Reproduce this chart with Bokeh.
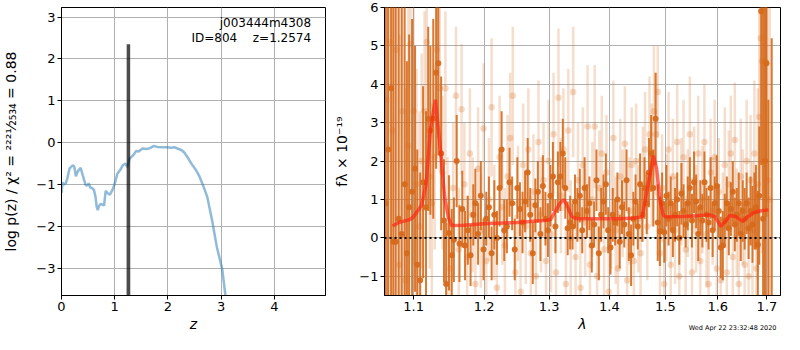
import numpy as np
from bokeh.plotting import figure
from bokeh.models import ColumnDataSource, FixedTicker, Range1d, Label, PrintfTickFormatter, Span, Title
from bokeh.layouts import row
from bokeh.embed import file_html
from bokeh.resources import INLINE

# ---------------- data: left panel (redshift PDF) ----------------
z_grid = [0.0, 0.02, 0.05, 0.08, 0.11, 0.15, 0.18, 0.21, 0.24, 0.27,
          0.30, 0.33, 0.36, 0.40, 0.45, 0.48, 0.51, 0.54, 0.57, 0.61,
          0.64, 0.66, 0.68, 0.71, 0.74, 0.77, 0.80, 0.83, 0.86, 0.91,
          0.96, 1.00, 1.05, 1.10, 1.15, 1.20, 1.24, 1.28, 1.32, 1.36,
          1.40, 1.45, 1.52, 1.60, 1.66, 1.73, 1.80, 1.90, 1.98, 2.06,
          2.13, 2.20, 2.26, 2.31, 2.37, 2.44, 2.52, 2.59, 2.66, 2.74,
          2.83, 2.92, 3.02, 3.08]
log_pz = [-1.2, -0.95, -1.0, -0.97, -0.85, -0.62, -0.58, -0.54, -0.57, -0.8,
          -0.7, -0.64, -0.6, -0.78, -1.0, -1.03, -0.97, -1.07, -1.08, -1.13,
          -1.3, -1.52, -1.61, -1.5, -1.46, -1.48, -1.5, -1.15, -1.2, -1.24,
          -1.12, -0.98, -0.74, -0.66, -0.54, -0.5, -0.58, -0.38, -0.33, -0.28,
          -0.2, -0.21, -0.14, -0.15, -0.13, -0.08, -0.1, -0.11, -0.11, -0.12,
          -0.11, -0.15, -0.18, -0.24, -0.35, -0.5, -0.64, -0.8, -1.02, -1.3,
          -1.86, -2.5, -3.02, -3.65]
spike_z = [1.2540, 1.2574, 1.2608]
spike_logp = [-8.0, 2.35, -8.0]
obj_name = "j003444m4308"
obj_id = "ID=804"
obj_z = "z=1.2574"
timestamp = "Wed Apr 22 23:32:48 2020"

# ---------------- data: right panel (spectrum) ----------------
# binned spectrum (dark)
lam_b = [1.063, 1.066, 1.070, 1.073, 1.076, 1.080, 1.084, 1.088, 1.091, 1.094,
         1.098, 1.102, 1.105, 1.109, 1.113, 1.117, 1.120, 1.123, 1.127, 1.131,
         1.134, 1.138, 1.142, 1.145, 1.149, 1.153, 1.156, 1.160, 1.164, 1.168,
         1.172, 1.176, 1.180, 1.184, 1.187, 1.191, 1.195, 1.199, 1.203, 1.207,
         1.211, 1.215, 1.219, 1.223, 1.226, 1.230, 1.234, 1.238, 1.242, 1.246,
         1.250, 1.254, 1.258, 1.262, 1.266, 1.270, 1.274, 1.278, 1.282, 1.286,
         1.290, 1.294, 1.298, 1.302, 1.306, 1.310, 1.314, 1.318, 1.322, 1.326,
         1.330, 1.334, 1.338, 1.342, 1.346, 1.350, 1.354, 1.358, 1.362, 1.366,
         1.370, 1.374, 1.378, 1.382, 1.386, 1.390, 1.394, 1.398, 1.402, 1.406,
         1.410, 1.414, 1.418, 1.422, 1.426, 1.430, 1.434, 1.438, 1.442, 1.446,
         1.450, 1.454, 1.458, 1.462, 1.466, 1.470, 1.474, 1.478, 1.482, 1.486,
         1.490, 1.494, 1.498, 1.502, 1.506, 1.510, 1.514, 1.518, 1.522, 1.526,
         1.530, 1.534, 1.538, 1.542, 1.546, 1.550, 1.554, 1.558, 1.562, 1.566,
         1.570, 1.574, 1.578, 1.582, 1.586, 1.590, 1.594, 1.598, 1.602, 1.606,
         1.610, 1.614, 1.618, 1.622, 1.626, 1.630, 1.634, 1.638, 1.642, 1.646,
         1.650, 1.654, 1.658, 1.662, 1.666, 1.670, 1.674, 1.677, 1.681, 1.684,
         1.688, 1.692, 1.696, 1.699, 1.703, 1.710]
flux_b = [0.9, 2.3, 3.9, -0.1, -0.1, 0.5, 0.1, 1.4, -0.4, 0.8,
          1.2, 1.8, -0.7, -1.1, 1.45, 0.8, 3.1, 2.8, 3.1, 4.3,
          4.55, 2.2, 0.45, -1.2, 0.13, -0.45, -0.05, 2.0, -0.15, 0.75,
          -0.2, 0.2, -0.45, 0.6, 0.9, 0.1, 1.1, -0.3, 0.5, 0.8,
          -0.4, 0.6, 0.0, 1.3, 2.3, 0.2, 0.3, 1.45, 0.9, -0.3,
          1.3, 0.75, 0.4, 0.95, 1.7, 0.6, -0.4, 0.85, 1.2, 0.1,
          1.35, 0.5, 0.2, 1.1, 1.6, 0.3, 1.45, 1.6, 2.2, 1.3,
          0.25, 0.4, 0.3, 0.95, 0.6, 1.1, 0.2, 1.3, 0.7, 0.9,
          -0.2, 0.35, 1.5, -0.4, 0.6, 0.95, 1.4, 0.2, -0.25, 0.6,
          0.4, 1.0, -0.1, 0.8, 0.35, 1.5, 0.1, -0.45, 0.5, 0.95,
          0.3, 1.4, 0.6, 1.3, 0.9, 1.7, 2.2, 1.3, 3.1, 0.4,
          0.17, 0.9, 0.15, 1.1, 0.5, 0.9, 0.2, 0.6, 1.0, 0.0,
          1.15, 0.7, 0.35, 0.9, 1.3, 0.45, 1.45, 0.95, 0.1, 0.8,
          0.45, 1.45, 0.6, 0.4, 1.3, 0.2, 0.9, 1.35, 0.7, -0.25,
          -0.2, 0.45, 0.9, 0.25, 0.75, 1.2, 0.35, 0.6, 0.9, 0.1,
          0.7, 0.5, 0.9, 0.25, 0.7, 0.35, 0.7, 0.8, -0.18, 1.1,
          5.9, 0.5, 2.0, 4.55, -3.0, -2.5]
err_b = [9, 8, 8, 7, 7, 6, 6, 5, 5, 4.5,
         4.5, 3.2, 3.0, 2.8, 2.5, 2.5, 2.4, 2.2, 2.6, 2.5,
         2.4, 2.0, 1.6, 1.6, 1.5, 1.2, 1.1, 1.2, 1.0, 1.0,
         0.9, 0.9, 0.8, 0.8, 0.9, 0.8, 0.9, 0.8, 0.7, 0.8,
         0.7, 0.9, 0.7, 1.0, 1.0, 0.8, 0.7, 0.9, 0.7, 0.8,
         0.8, 0.7, 0.8, 0.8, 0.9, 0.7, 0.8, 0.7, 0.8, 0.7,
         0.8, 0.7, 0.7, 0.8, 0.9, 0.7, 0.8, 0.9, 0.9, 0.8,
         0.7, 0.7, 0.6, 0.7, 0.7, 0.7, 0.6, 0.8, 0.7, 0.7,
         0.7, 0.6, 0.8, 0.7, 0.7, 0.7, 0.8, 0.6, 0.7, 0.7,
         0.6, 0.7, 0.7, 0.7, 0.6, 0.8, 0.7, 0.8, 0.7, 0.7,
         0.6, 0.8, 0.7, 0.8, 0.8, 0.9, 1.0, 1.0, 1.2, 1.0,
         0.9, 0.8, 0.8, 0.8, 0.7, 0.7, 0.7, 0.7, 0.7, 0.7,
         0.8, 0.7, 0.6, 0.7, 0.8, 0.7, 0.8, 0.7, 0.7, 0.7,
         0.7, 0.8, 0.7, 0.7, 0.8, 0.7, 0.7, 0.8, 0.7, 0.8,
         0.9, 0.7, 0.7, 0.7, 0.7, 0.8, 0.7, 0.7, 0.8, 0.7,
         0.8, 0.8, 0.8, 0.8, 0.9, 1.0, 1.0, 1.1, 1.4, 1.8,
         4.0, 7.0, 6.0, 4.0, 6.6, 7.7]

# unbinned spectrum (light)
lam_u = [1.064, 1.068, 1.072, 1.077, 1.081, 1.085, 1.089, 1.093, 1.096, 1.100,
         1.104, 1.108, 1.111, 1.115, 1.118, 1.122, 1.125, 1.129, 1.132, 1.136,
         1.140, 1.144, 1.147, 1.151, 1.155, 1.159, 1.163, 1.167, 1.171, 1.175,
         1.179, 1.183, 1.187, 1.191, 1.195, 1.199, 1.203, 1.207, 1.211, 1.215,
         1.219, 1.223, 1.227, 1.231, 1.235, 1.239, 1.243, 1.247, 1.251, 1.255,
         1.259, 1.263, 1.267, 1.271, 1.275, 1.279, 1.283, 1.287, 1.291, 1.295,
         1.299, 1.303, 1.307, 1.311, 1.315, 1.319, 1.323, 1.327, 1.331, 1.335,
         1.339, 1.343, 1.347, 1.351, 1.355, 1.359, 1.363, 1.367, 1.371, 1.375,
         1.379, 1.383, 1.387, 1.391, 1.395, 1.399, 1.403, 1.407, 1.411, 1.415,
         1.419, 1.423, 1.427, 1.431, 1.435, 1.439, 1.443, 1.447, 1.451, 1.455,
         1.459, 1.463, 1.467, 1.471, 1.475, 1.479, 1.483, 1.486, 1.490, 1.494,
         1.498, 1.502, 1.506, 1.510, 1.514, 1.518, 1.522, 1.526, 1.530, 1.534,
         1.538, 1.542, 1.546, 1.550, 1.554, 1.558, 1.562, 1.566, 1.570, 1.574,
         1.578, 1.582, 1.586, 1.590, 1.594, 1.598, 1.602, 1.606, 1.610, 1.614,
         1.618, 1.622, 1.626, 1.630, 1.634, 1.638, 1.642, 1.646, 1.650, 1.654,
         1.658, 1.662, 1.666, 1.670, 1.674, 1.678, 1.681, 1.684, 1.687, 1.690,
         1.693, 1.697, 1.701, 1.706]
flux_u = [3.6, 5.1, 2.8, 4.9, -0.7, 3.3, -1.1, 2.4, 5.05, 3.3,
          1.4, 0.3, 2.0, 3.3, 5.1, 1.6, 0.9, 2.1, 4.9, 3.9,
          1.7, 3.9, 0.3, -0.8, 1.3, 3.7, -0.3, 3.35, 1.4, -0.5,
          2.2, 0.6, -1.2, 1.8, 0.2, 2.85, -0.6, 1.0, 3.4, 0.4,
          -1.3, 2.1, 0.8, -0.2, 1.6, 2.6, 3.7, -0.9, 0.9, -1.4,
          1.9, 0.3, 2.3, -0.4, 1.2, -1.0, 2.5, 0.6, 1.5, -0.6,
          2.0, 0.1, 2.7, -0.9, 3.65, 1.1, 2.3, -1.2, 2.8, 0.0,
          3.8, -0.5, 1.5, -1.3, 1.9, 0.4, 2.9, -0.7, 1.0, 2.9,
          -1.0, 1.3, 2.2, -0.3, 1.7, -1.4, 0.6, 2.6, 0.2, -0.8,
          1.6, 0.9, 2.45, -1.1, 0.7, 1.9, -0.6, 2.0, 0.5, -0.4,
          1.4, 2.3, 0.3, 2.7, 1.9, 3.3, 2.7, 3.8, -0.4, 1.3,
          -1.2, 0.8, 2.3, -0.7, 1.6, 0.2, 2.5, -1.0, 1.2, 2.1,
          -0.3, 0.9, 2.7, -0.9, 1.5, 0.5, 2.2, -0.6, 1.0, 2.5,
          0.1, -1.2, 1.7, 0.7, 2.1, -0.8, 1.2, -1.1, 0.3, 1.9,
          -0.9, 1.4, 2.2, -0.5, 2.55, 0.4, -1.2, 1.6, 0.8, -0.7,
          2.0, -1.0, 1.5, 0.2, 2.2, -0.8, 1.4, 3.15, 5.2, 4.6,
          2.0, 4.6, 1.5, 1.0]
err_u = [8, 8, 7, 7, 6, 6, 5, 5, 4.5, 4,
         3, 3, 2.8, 2.6, 2.5, 2.4, 2.6, 2.4, 2.3, 2.2,
         2.0, 2.0, 1.8, 1.8, 1.7, 1.8, 1.6, 1.7, 1.6, 1.6,
         1.7, 1.5, 1.6, 1.6, 1.5, 1.7, 1.5, 1.6, 1.8, 1.5,
         1.6, 1.6, 1.5, 1.5, 1.6, 1.7, 1.8, 1.5, 1.5, 1.6,
         1.6, 1.5, 1.6, 1.5, 1.5, 1.5, 1.6, 1.5, 1.5, 1.5,
         1.6, 1.5, 1.6, 1.5, 1.8, 1.5, 1.6, 1.5, 1.6, 1.5,
         1.7, 1.5, 1.5, 1.5, 1.5, 1.4, 1.6, 1.5, 1.5, 1.6,
         1.5, 1.5, 1.5, 1.5, 1.5, 1.5, 1.4, 1.5, 1.4, 1.5,
         1.5, 1.4, 1.5, 1.5, 1.4, 1.5, 1.4, 1.5, 1.4, 1.4,
         1.5, 1.5, 1.4, 1.5, 1.6, 1.7, 1.6, 1.2, 1.5, 1.4,
         1.5, 1.4, 1.5, 1.4, 1.5, 1.4, 1.5, 1.4, 1.4, 1.5,
         1.4, 1.4, 1.5, 1.4, 1.4, 1.4, 1.5, 1.4, 1.4, 1.5,
         1.4, 1.4, 1.4, 1.4, 1.5, 1.4, 1.4, 1.4, 1.4, 1.5,
         1.4, 1.4, 1.5, 1.4, 1.5, 1.4, 1.5, 1.5, 1.5, 1.5,
         1.6, 1.6, 1.7, 1.8, 1.9, 2.2, 2.5, 3.0, 4.0, 5.0,
         6.0, 7.0, 7.0, 8.0]

# best-fit model (red)
lam_m = [1.072, 1.080, 1.086, 1.095, 1.100, 1.104, 1.111, 1.117, 1.123, 1.130,
         1.137, 1.143, 1.148, 1.153, 1.170, 1.200, 1.250, 1.290, 1.302, 1.310,
         1.318, 1.324, 1.330, 1.337, 1.345, 1.380, 1.420, 1.444, 1.458, 1.464,
         1.470, 1.478, 1.484, 1.490, 1.496, 1.500, 1.530, 1.560, 1.585, 1.595,
         1.606, 1.615, 1.624, 1.636, 1.650, 1.660, 1.672, 1.685, 1.703]
flux_m = [0.31, 0.40, 0.43, 0.48, 0.55, 0.66, 0.85, 1.4, 2.8, 3.6,
          2.3, 1.05, 0.55, 0.32, 0.33, 0.37, 0.40, 0.45, 0.47, 0.70,
          0.92, 1.0, 0.80, 0.55, 0.50, 0.50, 0.50, 0.52, 0.55, 1.05,
          1.5, 2.14, 1.8, 1.0, 0.6, 0.55, 0.56, 0.58, 0.60, 0.55,
          0.30, 0.42, 0.59, 0.55, 0.43, 0.55, 0.65, 0.70, 0.73]

assert len(lam_b) == len(flux_b) == len(err_b)
assert len(lam_u) == len(flux_u) == len(err_u)
assert len(lam_m) == len(flux_m)
assert len(z_grid) == len(log_pz)

spec_ticks = [1.1, 1.2, 1.3, 1.4, 1.5, 1.6, 1.7]
flux_ticks = [-1, 0, 1, 2, 3, 4, 5, 6]
z_ticks = [0, 1, 2, 3, 4]
pz_ticks = [-3, -2, -1, 0, 1, 2, 3]

FONT = "DejaVu Sans"
ORANGE = "#d66a1c"
GRID = "#b0b0b0"
MINUS = "\u2212"


def style(p):
    p.outline_line_color = "black"
    p.outline_line_alpha = 1.0
    p.outline_line_width = 1
    p.background_fill_color = "white"
    p.border_fill_color = "white"
    for ax in p.axis:
        ax.axis_line_color = "black"
        ax.major_tick_out = 4
        ax.major_tick_in = 0
        ax.minor_tick_out = 0
        ax.minor_tick_in = 0
        ax.major_tick_line_color = "black"
        ax.major_label_text_font = FONT
        ax.major_label_text_font_size = "13px"
        ax.major_label_text_color = "black"
        ax.major_label_standoff = 2
        ax.axis_label_text_font = FONT
        ax.axis_label_text_font_size = "14px"
        ax.axis_label_text_color = "black"
    for g in p.grid:
        g.grid_line_color = GRID
        g.grid_line_width = 1
        g.grid_line_alpha = 1.0


# ---------------- left figure ----------------
left = figure(width=330, height=334, output_backend="svg", toolbar_location=None,
              x_range=Range1d(0, 4.96), y_range=Range1d(-3.65, 3.23),
              min_border_left=54, min_border_right=5, min_border_top=7, min_border_bottom=38)
style(left)
left.xaxis.ticker = FixedTicker(ticks=z_ticks, minor_ticks=[])
left.yaxis.ticker = FixedTicker(ticks=pz_ticks, minor_ticks=[])
left.xgrid.ticker = FixedTicker(ticks=z_ticks, minor_ticks=[])
left.ygrid.ticker = FixedTicker(ticks=pz_ticks, minor_ticks=[])
left.yaxis.major_label_overrides = {t: (MINUS + str(-t) if t < 0 else str(t)) for t in pz_ticks}
left.xaxis.axis_label = "z"
left.xaxis.axis_label_text_font_style = "italic"
left.xaxis.axis_label_standoff = 2
left.yaxis.axis_label = "log p(z) / \u03c7\u00b2 = \u00b2\u00b2\u00b2\u00b9\u2044\u2082\u2085\u2083\u2084 = 0.88"
left.yaxis.axis_label_text_font_style = "normal"
left.yaxis.axis_label_standoff = 14

left.line(z_grid, log_pz, line_color="#1f77b4", line_alpha=0.5, line_width=2.5)
left.line(spike_z, spike_logp, line_color="black", line_alpha=0.7, line_width=3.5)

left.add_layout(Label(x=4.69, y=3.02, text=obj_name, text_align="right", text_baseline="top",
                      text_font=FONT, text_font_size="12px", text_color="black"))
left.add_layout(Label(x=3.30, y=2.67, text=obj_id, text_align="right", text_baseline="top",
                      text_font=FONT, text_font_size="12px", text_color="black"))
left.add_layout(Label(x=4.69, y=2.67, text=obj_z, text_align="right", text_baseline="top",
                      text_font=FONT, text_font_size="12px", text_color="black"))

# ---------------- right figure ----------------
right = figure(width=454, height=334, output_backend="svg", toolbar_location=None,
               x_axis_type="log", x_range=Range1d(1.0613, 1.7286), y_range=Range1d(-1.5, 6.0),
               min_border_left=54, min_border_right=4, min_border_top=7, min_border_bottom=38)
style(right)
right.xaxis.ticker = FixedTicker(ticks=spec_ticks, minor_ticks=[])
right.xgrid.ticker = FixedTicker(ticks=spec_ticks, minor_ticks=[])
right.xaxis.formatter = PrintfTickFormatter(format="%.1f")
right.yaxis.ticker = FixedTicker(ticks=flux_ticks, minor_ticks=[])
right.ygrid.ticker = FixedTicker(ticks=flux_ticks, minor_ticks=[])
right.yaxis.major_label_overrides = {t: (MINUS + str(-t) if t < 0 else str(t)) for t in flux_ticks}
right.xaxis.axis_label = "\u03bb"
right.xaxis.axis_label_text_font_style = "italic"
right.xaxis.axis_label_standoff = 2
right.yaxis.axis_label = "f\u03bb \u00d7 10\u207b\u00b9\u2079"
right.yaxis.axis_label_text_font_style = "normal"
right.yaxis.axis_label_standoff = 6

fu = np.array(flux_u, dtype=float)
eu = np.array(err_u, dtype=float)
src_u = ColumnDataSource(dict(lam=lam_u, f=flux_u, lo=list(fu - eu), hi=list(fu + eu)))
fb = np.array(flux_b, dtype=float)
eb = np.array(err_b, dtype=float)
src_b = ColumnDataSource(dict(lam=lam_b, f=flux_b, lo=list(fb - eb), hi=list(fb + eb)))

right.segment(x0="lam", y0="lo", x1="lam", y1="hi", source=src_u,
              line_color=ORANGE, line_alpha=0.22, line_width=2.5)
right.scatter(x="lam", y="f", source=src_u, size=6.5, fill_color=ORANGE, fill_alpha=0.25,
              line_color=None)
right.segment(x0="lam", y0="lo", x1="lam", y1="hi", source=src_b,
              line_color=ORANGE, line_alpha=0.9, line_width=2)
right.scatter(x="lam", y="f", source=src_b, size=6, fill_color=ORANGE, fill_alpha=0.95,
              line_color=None)
right.line(lam_m, flux_m, line_color="#ff2010", line_alpha=0.65, line_width=3.5)
right.add_layout(Span(location=0, dimension="width", line_color="black", line_width=2,
                      line_dash="2 3"))
right.add_layout(Title(text=timestamp, align="right", vertical_align="top",
                       text_font=FONT, text_font_size="6.5px",
                       text_font_style="normal", text_color="black", standoff=-22,
                       offset=4), "below")

layout = row(left, right)
open("out.html", "w").write(file_html(layout, INLINE))
